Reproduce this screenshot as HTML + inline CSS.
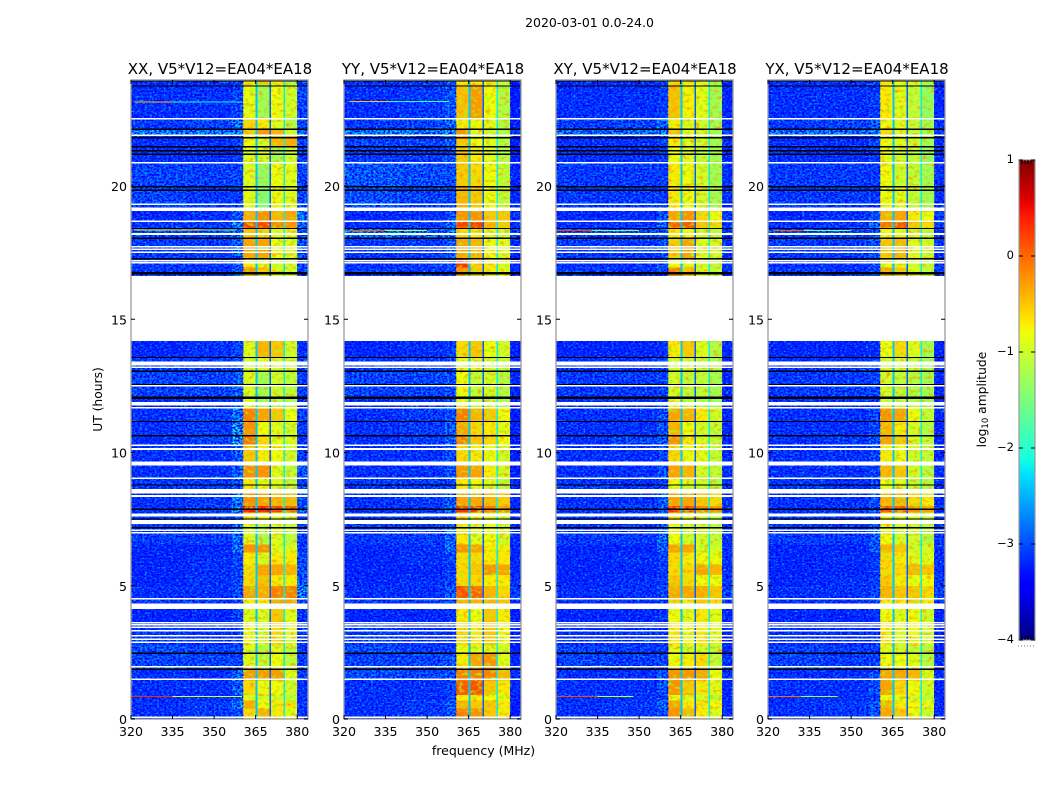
<!DOCTYPE html>
<html>
<head>
<meta charset="utf-8">
<title>2020-03-01 0.0-24.0</title>
<style>
html,body{margin:0;padding:0;background:#fff;}
svg{display:block;font-family:"DejaVu Sans","Liberation Sans",sans-serif;}
text{fill:#000;}
</style>
</head>
<body>
<svg id="chart" width="1050" height="800" viewBox="0 0 1050 800" xmlns="http://www.w3.org/2000/svg">
<defs>
<filter id="speckle-light" x="0" y="0" width="100%" height="100%" color-interpolation-filters="sRGB">
<feTurbulence type="fractalNoise" baseFrequency="0.38 0.62" numOctaves="2" seed="3"/>
<feColorMatrix values="0 0 0 0 0  0 0 0 0 .7  0 0 0 0 1  3.4 0 0 0 -1.65"/>
</filter>
<filter id="speckle-dark" x="0" y="0" width="100%" height="100%" color-interpolation-filters="sRGB">
<feTurbulence type="fractalNoise" baseFrequency="0.42 0.55" numOctaves="2" seed="11"/>
<feColorMatrix values="0 0 0 0 0  0 0 0 0 0  0 0 0 0 1  0 3.4 0 0 -1.2"/>
</filter>
<filter id="band-warm" x="0" y="0" width="100%" height="100%" color-interpolation-filters="sRGB">
<feTurbulence type="fractalNoise" baseFrequency="0.22 0.3" numOctaves="2" seed="5"/>
<feColorMatrix values="0 0 0 0 1  0 0 0 0 .6  0 0 0 0 0  3 0 0 0 -1.55"/>
</filter>
<filter id="band-cool" x="0" y="0" width="100%" height="100%" color-interpolation-filters="sRGB">
<feTurbulence type="fractalNoise" baseFrequency="0.22 0.3" numOctaves="2" seed="17"/>
<feColorMatrix values="0 0 0 0 .6  0 0 0 0 1  0 0 0 0 .1  0 3 0 0 -1.55"/>
</filter>
<linearGradient id="jet-gradient" x1="0" y1="1" x2="0" y2="0"></linearGradient>
</defs>
</svg>
<script>
// ---- chart data (hours, MHz, log10 amplitude) ----
const polarizations = ['XX', 'YY', 'XY', 'YX'];
const baselineLabel = ', V5*V12=EA04*EA18';
const xTickLabels = [320, 335, 350, 365, 380];
const yTickLabels = [0, 5, 10, 15, 20];
const colorbarTicks = [1, 0, -1, -2, -3, -4];
const freqBlockEdges = [320, 340, 356.5, 360.5, 365, 370, 375, 380, 384];
const gapStarts = [365, 370, 375];
const gapEnds = [365.7, 370.6, 375.6];
const rowStarts = [24, 23.8, 22.5, 22.12, 21.9, 21.5, 20.87, 19.97, 19.06, 18.68, 18.4, 18.04, 17.3, 16.95, 14.18, 13.55, 13.05, 12.05, 11.68, 11.16, 10.63, 10.27, 9.52, 9.03, 8.63, 8.0, 7.75, 7.3, 6.55, 6.25, 5.8, 5.4, 5.0, 4.5, 4.13, 3.6, 2.75, 2.47, 1.87, 1.45, 0.9, 0.7, 0.4];
const rowEnds = [23.8, 22.5, 22.12, 21.9, 21.5, 20.87, 19.97, 19.06, 18.68, 18.4, 18.04, 17.3, 16.95, 16.62, 13.55, 13.05, 12.05, 11.68, 11.16, 10.63, 10.27, 9.52, 9.03, 8.63, 8.0, 7.75, 7.3, 6.55, 6.25, 5.8, 5.4, 5.0, 4.5, 4.13, 3.6, 2.75, 2.47, 1.87, 1.45, 0.9, 0.7, 0.4, 0];
// each row: low1, low2, low3, band1, band2, band3, band4, upper-edge
const xxValues = [
[-3.0,-3.0,-2.8,-.7,-.5,-.7,-1.2,-3.0],[-3.0,-3.0,-2.8,-.85,-1.3,-.8,-1.0,-2.8],[-2.9,-2.8,-2.3,-.6,-.7,-.9,-1.2,-2.8],[-2.3,-2.3,-2.2,-.5,-.25,-.4,-1.0,-2.4],
[-3.0,-3.0,-2.8,-.8,-1.0,-.4,-.35,-2.9],[-3.0,-3.0,-2.9,-.9,-1.0,-1.3,-1.0,-2.9],[-2.8,-2.85,-2.8,-.9,-1.4,-.8,-.9,-2.8],[-2.8,-2.9,-2.9,-.85,-1.5,-.8,-.9,-2.8],
[-3.1,-3.0,-2.6,-.35,-.2,-.4,-.3,-2.4],[-2.9,-2.9,-2.2,.15,.2,-.15,-.2,-2.5],[-2.8,-2.8,-2.4,-.5,-.6,-.9,-.9,-2.7],[-2.9,-2.9,-2.5,-.3,-.3,-.8,-.9,-2.7],
[-2.9,-2.9,-2.7,-.7,-.9,-1.0,-1.0,-2.8],[-2.9,-3.0,-2.6,-.2,-.5,-.9,-1.0,-2.8],[-3.1,-3.0,-2.8,-.9,-.4,-.5,-1.0,-3.0],[-2.9,-2.9,-2.8,-1.0,-.9,-1.0,-1.0,-2.9],
[-2.8,-2.8,-2.6,-.95,-1.3,-1.0,-1.1,-2.9],[-3.0,-3.0,-2.8,-.9,-1.3,-1.2,-1.2,-3.0],[-3.0,-2.9,-2.4,-.1,-.3,-.5,-.8,-2.9],[-3.0,-2.9,-2.1,-.2,-.8,-.9,-1.0,-2.9],
[-3.0,-2.8,-2.1,-.05,-.6,-.8,-.9,-3.0],[-3.0,-3.0,-2.6,-.5,-.7,-.8,-1.0,-2.9],[-3.0,-3.0,-2.5,-.2,-.2,-.9,-1.1,-2.6],[-2.9,-2.9,-2.7,-.7,-.8,-.9,-1.1,-2.8],
[-3.0,-2.9,-2.3,-.2,-.3,-.4,-.4,-2.7],[-3.0,-2.8,-2.1,.45,.4,.2,.15,-2.5],[-2.9,-2.9,-2.6,-.6,-.8,-.9,-1.0,-2.8],[-2.9,-2.9,-2.4,-.9,-1.2,-.9,-1.1,-2.9],
[-3.1,-3.1,-2.4,-.2,-.2,-.9,-.9,-2.9],[-3.1,-3.0,-2.8,-.7,-.9,-.7,-.7,-2.8],[-3.1,-3.0,-2.8,-.6,-.3,-.3,-.4,-2.7],[-3.1,-3.0,-2.8,-.6,-.45,-.7,-.7,-2.6],
[-3.0,-3.0,-2.7,-.3,-.35,-.1,-.1,-2.2],[-2.9,-2.9,-2.7,-.7,-.7,-.3,-.3,-2.8],[-3.1,-3.1,-2.8,-.9,-.95,-.5,-.9,-3.0],[-2.9,-3.0,-2.9,-.8,-1.0,-.6,-.9,-2.9],
[-2.7,-2.8,-2.8,-.9,-1.2,-.9,-1.1,-2.9],[-2.8,-2.8,-2.8,-.9,-1.1,-.8,-1.1,-2.9],[-3.0,-3.0,-2.5,-.25,-.25,-.25,-.85,-2.9],[-3.0,-3.0,-2.5,-.6,-.8,-.8,-1.0,-3.0],
[-3.0,-3.0,-2.8,-.9,-1.0,-1.0,-1.1,-3.0],[-3.0,-2.9,-2.3,-.35,-.8,-.7,-.65,-2.9],[-3.0,-2.9,-2.7,-.6,-.4,-.7,-.9,-3.0]];
const yyValues = [
[-3.0,-2.9,-2.6,-.7,-.7,-.7,-1.1,-3.2],[-3.0,-2.9,-2.6,-.45,-.25,-.8,-1.2,-3.2],[-2.9,-2.8,-2.4,-.7,-.75,-.9,-1.2,-3.2],[-2.3,-2.3,-2.2,-.2,-.8,-1.0,-1.2,-3.0],
[-2.8,-2.8,-2.6,-.5,-.8,-.9,-1.2,-3.2],[-2.9,-2.9,-2.7,-.5,-.7,-.9,-1.2,-3.2],[-2.6,-2.7,-2.7,-.5,-.6,-.8,-1.1,-3.1],[-2.7,-2.8,-2.8,-.4,-.5,-.8,-1.1,-3.1],
[-3.1,-3.0,-2.7,-.2,-.2,-.5,-.5,-3.0],[-3.0,-2.9,-2.5,.25,.25,-.4,-.5,-3.0],[-2.4,-2.5,-2.3,-.6,-.7,-.9,-1.0,-2.8],[-2.9,-2.9,-2.6,-.3,-.4,-.8,-.9,-3.1],
[-3.0,-2.9,-2.7,.3,-.6,-.7,-.9,-3.1],[-2.9,-2.9,-2.7,-.2,-.5,-.7,-.9,-3.1],[-3.1,-3.0,-2.9,-.6,-.5,-.8,-1.0,-3.2],[-2.9,-2.9,-2.8,-.9,-.9,-1.0,-1.1,-3.1],
[-2.8,-2.8,-2.7,-.8,-1.1,-1.0,-1.2,-3.1],[-3.0,-3.0,-2.8,-.8,-1.1,-1.1,-1.2,-3.2],[-3.0,-2.9,-2.7,-.1,-.4,-.5,-.8,-3.2],[-3.0,-2.9,-2.6,-.3,-.6,-.7,-.9,-3.2],
[-3.0,-2.9,-2.5,-.1,-.5,-.6,-.8,-3.2],[-3.0,-3.0,-2.7,-.6,-.7,-.8,-1.0,-3.2],[-3.0,-3.0,-2.7,-.2,-.3,-.7,-1.0,-3.2],[-2.9,-2.9,-2.8,-.7,-.8,-.9,-1.1,-3.1],
[-3.0,-2.9,-2.6,-.3,-.3,-.4,-.5,-3.1],[-3.0,-2.9,-2.5,.3,.3,-.1,-.2,-3.1],[-2.9,-2.9,-2.7,-.6,-.8,-.9,-1.0,-3.1],[-2.9,-2.9,-2.5,-.7,-.9,-.8,-1.0,-3.1],
[-3.1,-3.0,-2.4,-.2,-.3,-.7,-.7,-3.1],[-3.1,-3.0,-2.8,-.6,-.6,-.7,-.7,-3.1],[-3.1,-3.1,-2.9,-.6,-.5,-.2,-.3,-3.1],[-3.1,-3.0,-2.8,-.6,-.6,-.7,-.7,-3.0],
[-3.0,-3.0,-2.6,.15,.05,-.4,-.6,-2.9],[-2.9,-2.9,-2.8,-.4,-.4,-.4,-.5,-3.1],[-3.1,-3.1,-3.0,-.7,-.8,-.5,-.7,-3.2],[-2.9,-3.0,-3.0,-.6,-.7,-.5,-.8,-3.2],
[-2.7,-2.9,-2.9,-.8,-.9,-.9,-1.0,-3.2],[-2.8,-2.8,-2.6,-.7,-.3,-.2,-.9,-3.1],[-2.7,-2.8,-2.7,-.1,-.1,-.1,-.4,-3.0],[-3.0,-3.0,-2.8,.1,.15,-.5,-.7,-3.1],
[-3.0,-3.0,-2.8,-.7,-.7,-.8,-.9,-3.2],[-3.0,-2.9,-2.6,-.4,-.5,-.5,-.7,-3.2],[-3.0,-2.9,-2.6,-.1,-.2,-.5,-.7,-3.2]];
const xyValues = [
[-3.0,-3.0,-2.8,-.6,-.7,-.9,-1.3,-3.1],[-3.0,-3.0,-2.9,-.45,-.75,-.9,-1.3,-3.1],[-2.9,-2.8,-2.5,-.7,-.9,-1.0,-1.3,-3.0],[-2.4,-2.4,-2.3,-.5,-.9,-1.0,-1.3,-2.9],
[-3.0,-3.0,-2.8,-.7,-.9,-1.0,-1.3,-3.0],[-3.0,-3.0,-2.9,-.8,-.9,-1.1,-1.3,-3.1],[-2.9,-2.9,-2.9,-.7,-.8,-1.0,-1.3,-3.0],[-2.9,-2.9,-2.9,-.7,-.8,-1.0,-1.3,-3.0],
[-3.1,-3.0,-2.7,-.3,-.2,-.6,-.8,-2.9],[-3.0,-2.9,-2.5,.05,.1,-.5,-.6,-2.9],[-2.8,-2.8,-2.6,-.7,-.8,-1.0,-1.1,-3.0],[-2.9,-2.9,-2.7,-.5,-.3,-.9,-1.0,-3.0],
[-3.0,-3.0,-2.8,-.8,-.9,-1.0,-1.1,-3.0],[-2.9,-3.0,-2.7,-.1,-.5,-.9,-1.1,-3.0],[-3.1,-3.1,-3.0,-.7,-.5,-.9,-1.2,-3.1],[-3.0,-3.0,-2.9,-1.0,-1.0,-1.1,-1.2,-3.1],
[-2.9,-2.9,-2.8,-1.0,-1.1,-1.1,-1.3,-3.1],[-3.0,-3.0,-2.9,-.9,-1.1,-1.2,-1.3,-3.1],[-3.0,-3.0,-2.7,-.3,-.4,-.7,-1.0,-3.1],[-3.0,-3.0,-2.7,-.4,-.8,-1.0,-1.1,-3.1],
[-3.0,-2.8,-2.6,-.2,-.7,-.9,-1.1,-3.1],[-3.0,-3.0,-2.8,-.6,-.8,-.9,-1.1,-3.1],[-3.0,-3.0,-2.7,-.3,-.4,-1.0,-1.1,-3.0],[-2.9,-3.0,-2.8,-.8,-.9,-1.0,-1.2,-3.0],
[-3.0,-3.0,-2.6,-.3,-.3,-.5,-.6,-3.0],[-3.0,-2.9,-2.5,.3,.25,-.1,-.2,-2.9],[-2.9,-3.0,-2.7,-.6,-.9,-1.0,-1.1,-3.0],[-2.9,-2.9,-2.5,-.8,-1.0,-1.0,-1.1,-3.0],
[-3.1,-3.1,-2.5,-.3,-.3,-1.0,-1.0,-3.0],[-3.1,-3.0,-2.9,-.6,-.7,-.8,-.8,-3.0],[-3.1,-3.1,-2.9,-.6,-.6,-.3,-.4,-3.0],[-3.1,-3.0,-2.9,-.5,-.6,-.8,-.8,-3.0],
[-3.0,-3.0,-2.8,-.35,-.3,-.35,-.5,-2.8],[-3.0,-3.0,-2.8,-.6,-.7,-.5,-.6,-3.0],[-3.1,-3.1,-3.0,-.8,-.9,-.7,-.9,-3.1],[-3.0,-3.0,-3.0,-.7,-.8,-.7,-.9,-3.1],
[-2.8,-2.9,-2.9,-.9,-1.0,-1.0,-1.1,-3.1],[-2.8,-2.9,-2.8,-.8,-.7,-.6,-1.1,-3.0],[-3.0,-3.0,-2.7,-.2,-.2,-.3,-.8,-3.0],[-3.0,-3.0,-2.7,-.2,-.5,-.7,-.9,-3.1],
[-3.0,-3.0,-2.9,-.8,-.9,-1.0,-1.1,-3.1],[-3.0,-2.9,-2.5,-.3,-.7,-.7,-.8,-3.1],[-3.0,-2.9,-2.7,-.2,-.4,-.7,-.9,-3.1]];
const yxValues = [
[-3.0,-3.0,-2.8,-.7,-.8,-1.0,-1.3,-3.1],[-3.0,-3.0,-2.9,-.7,-.9,-1.1,-1.4,-3.1],[-2.9,-2.8,-2.6,-.8,-.9,-1.1,-1.3,-3.0],[-2.4,-2.4,-2.3,-.6,-.9,-1.1,-1.3,-2.9],
[-3.0,-3.0,-2.8,-.8,-.9,-1.0,-1.3,-3.0],[-3.0,-3.0,-2.9,-.8,-1.0,-1.1,-1.4,-3.1],[-2.9,-2.9,-2.9,-.8,-1.0,-1.1,-1.3,-3.0],[-2.9,-2.9,-2.9,-.8,-.9,-1.1,-1.3,-3.0],
[-3.1,-3.0,-2.7,-.4,-.3,-.7,-.8,-2.9],[-3.0,-2.9,-2.5,-.05,.1,-.5,-.6,-2.9],[-2.8,-2.8,-2.6,-.8,-.8,-1.0,-1.1,-3.0],[-2.9,-2.9,-2.7,-.5,-.4,-.9,-1.0,-3.0],
[-3.0,-3.0,-2.8,-.8,-.9,-1.0,-1.1,-3.0],[-2.9,-3.0,-2.7,-.3,-.5,-.9,-1.1,-3.0],[-3.1,-3.1,-3.0,-.8,-.6,-.9,-1.3,-3.1],[-3.0,-3.0,-2.9,-1.0,-1.0,-1.1,-1.3,-3.1],
[-2.9,-2.9,-2.8,-1.0,-1.1,-1.2,-1.3,-3.1],[-3.0,-3.0,-2.9,-1.0,-1.1,-1.2,-1.3,-3.1],[-3.0,-3.0,-2.8,-.2,-.3,-.8,-1.1,-3.1],[-3.0,-3.0,-2.8,-.4,-.7,-1.0,-1.2,-3.1],
[-3.0,-2.9,-2.7,-.3,-.5,-1.0,-1.1,-3.1],[-3.0,-3.0,-2.8,-.7,-.8,-1.0,-1.1,-3.1],[-3.0,-3.0,-2.8,-.4,-.5,-1.0,-1.2,-3.0],[-2.9,-3.0,-2.8,-.8,-.9,-1.1,-1.2,-3.0],
[-3.0,-3.0,-2.7,-.4,-.4,-.6,-.7,-3.0],[-3.0,-2.9,-2.6,.2,.15,-.2,-.3,-2.9],[-2.9,-3.0,-2.8,-.7,-.9,-1.0,-1.1,-3.0],[-2.9,-2.9,-2.6,-.8,-1.0,-1.0,-1.2,-3.0],
[-3.1,-3.1,-2.6,-.4,-.5,-1.0,-1.0,-3.0],[-3.1,-3.0,-2.9,-.6,-.7,-.9,-.9,-3.0],[-3.1,-3.1,-2.9,-.6,-.6,-.4,-.5,-3.0],[-3.1,-3.0,-2.9,-.5,-.7,-.8,-.8,-3.0],
[-3.0,-3.0,-2.8,-.4,-.5,-.5,-.6,-2.8],[-3.0,-3.0,-2.8,-.7,-.7,-.6,-.7,-3.0],[-3.1,-3.1,-3.0,-.8,-.9,-.8,-1.0,-3.1],[-3.0,-3.0,-3.0,-.7,-.9,-.8,-1.0,-3.1],
[-2.8,-2.9,-2.9,-.9,-1.0,-1.1,-1.2,-3.1],[-2.8,-2.9,-2.8,-.8,-.8,-.9,-1.2,-3.0],[-3.0,-3.0,-2.7,-.3,-.3,-.4,-.9,-3.0],[-3.0,-3.0,-2.7,-.3,-.6,-.8,-1.0,-3.1],
[-3.0,-3.0,-2.9,-.8,-.9,-1.0,-1.1,-3.1],[-3.0,-2.9,-2.6,-.4,-.7,-.8,-.9,-3.1],[-3.0,-2.9,-2.7,-.3,-.5,-.8,-1.0,-3.1]];
// narrow bright interference lines: hour, start MHz, end MHz, value
const xxHotLines = [[23.16,321,335,-.4],[23.16,335,360,-2.1],[18.34,321,345,-.8],[18.34,345,358,-1.6],[9.05,321,332,.25],[0.85,320,335,.35],[0.85,335,360,-.9]];
const yyHotLines = [[23.17,322,336,-.5],[23.17,336,358,-2.0],[18.33,322,335,.05],[18.33,335,350,-1.3]];
const xyHotLines = [[18.33,320,333,.2],[18.33,333,350,-1.5],[0.85,320,335,.2],[0.85,335,348,-1.1]];
const yxHotLines = [[18.33,322,333,.05],[18.33,333,350,-1.6],[0.85,320,332,.0],[0.85,332,345,-1.3]];
// value of the narrow notches between the four bright bands
const gapLevels = [-2.4, -2.9, -2.2];
// flagged (blank) time ranges: start hour, end hour
const whiteBands = [[22.5,22.56],[21.87,21.93],[20.84,20.9],[19.29,19.35],[19.06,19.19],[18.65,18.71],[18.16,18.24],[17.69,17.75],[17.59,17.65],[17.49,17.55],[17.17,17.23],[17.09,17.15],[14.18,16.62],[13.27,13.41],[13.17,13.23],[12.47,12.53],[11.77,11.89],[11.65,11.71],[10.24,10.3],[10.1,10.16],[9.52,9.67],[9.0,9.06],[8.47,8.63],[8.33,8.4],[7.65,7.71],[7.59,7.65],[7.32,7.47],[7.06,7.12],[6.96,7.02],[4.48,4.54],[4.13,4.34],[3.58,3.64],[3.5,3.56],[3.41,3.47],[3.28,3.34],[3.1,3.16],[2.96,3.02],[2.85,2.91],[1.93,1.99],[1.46,1.52],[0.03,0.09]];
// flagged (zero) time slices: centre hour
const blackLines = [23.95,23.75,22.13,21.81,21.47,21.32,21.19,19.97,19.84,18.4,18.04,17.27,16.76,16.71,13.56,13.05,12.54,12.07,12.03,11.16,10.63,8.78,7.87,7.5,7.18,2.47,1.87];

// ---- axis functions ----
const svg = document.getElementById('chart');
const NS = 'http://www.w3.org/2000/svg';
const panelLefts = [131, 344, 556, 768];
const plotTop = 80, plotBottom = 719, plotWidth = 177;
const yOf = h => 719 - h * 26.65;
const xOf = (left, f) => left + (f - 320) * 2.77;
function jet(v) {
  const t = Math.max(0, Math.min(1, (v + 4) / 5));
  const ramp = (pts) => {
    for (let i = 1; i < pts.length; i++) {
      if (t <= pts[i][0]) {
        const a = pts[i - 1], b = pts[i];
        return a[1] + (b[1] - a[1]) * (t - a[0]) / (b[0] - a[0]);
      }
    }
    return pts[pts.length - 1][1];
  };
  const r = ramp([[0, 0], [.35, 0], [.66, 1], [.89, 1], [1, .5]]);
  const g = ramp([[0, 0], [.125, 0], [.375, 1], [.64, 1], [.91, 0], [1, 0]]);
  const b = ramp([[0, .5], [.11, 1], [.34, 1], [.65, 0], [1, 0]]);
  return 'rgb(' + Math.round(r * 255) + ',' + Math.round(g * 255) + ',' + Math.round(b * 255) + ')';
}
function make(tag, attrs, parent, txt) {
  const el = document.createElementNS(NS, tag);
  for (const k in attrs) el.setAttribute(k, attrs[k]);
  if (txt !== undefined) el.textContent = txt;
  parent.appendChild(el);
  return el;
}
function tickLine(parent, x1, y1, x2, y2) {
  const t = make('line', { x1: x1, y1: y1, x2: x2, y2: y2, stroke: '#000', 'stroke-width': 1 }, parent);
  
  
  return t;
}

// ---- panels ----
const panelValues = [xxValues, yyValues, xyValues, yxValues];
const panelHotLines = [xxHotLines, yyHotLines, xyHotLines, yxHotLines];
polarizations.forEach((pol, p) => {
  const left = panelLefts[p];
  const right = left + plotWidth;
  const g = make('g', {}, svg);
  
  
  const clipId = 'clip-' + p;
  const defs = make('clipPath', { id: clipId }, g);
  make('rect', { x: left, y: plotTop, width: plotWidth, height: plotBottom - plotTop }, defs);
  const body = make('g', { 'clip-path': 'url(#' + clipId + ')', 'shape-rendering': 'crispEdges' }, g);
  
  
  const rows = panelValues[p];
  rows.forEach((row, r) => {
    const y0 = yOf(rowStarts[r]), y1 = yOf(rowEnds[r]);
    row.forEach((v, c) => {
      const x0 = xOf(left, freqBlockEdges[c]), x1 = xOf(left, freqBlockEdges[c + 1]);
      const cell = make('rect', { x: x0.toFixed(2), y: y0.toFixed(2), width: (x1 - x0 + .3).toFixed(2), height: (y1 - y0 + .3).toFixed(2), fill: jet(v) }, body);
      
      
    });
  });
  // fine-grain receiver noise texture over the low-level regions
  [[320, 360.5], [380, 384]].forEach(span => {
    const sx = xOf(left, span[0]), sw = xOf(left, span[1]) - sx;
    ['speckle-light', 'speckle-dark'].forEach(fid => {
      const tex = make('rect', { x: sx, y: plotTop, width: sw, height: plotBottom - plotTop, filter: 'url(#' + fid + ')' }, body);
      
      
    });
  });
  // mottled texture over the bright bands
  [[360.5, 380]].forEach(span => {
    const sx = xOf(left, span[0]), sw = xOf(left, span[1]) - sx;
    ['band-warm', 'band-cool'].forEach(fid => {
      const tex = make('rect', { x: sx, y: plotTop, width: sw, height: plotBottom - plotTop, filter: 'url(#' + fid + ')' }, body);
      
      
    });
  });
  // notches between the bright bands
  gapLevels.forEach((v, i) => {
    const x0 = xOf(left, gapStarts[i]), x1 = xOf(left, gapEnds[i]);
    const gap = make('rect', { x: x0.toFixed(2), y: plotTop, width: (x1 - x0).toFixed(2), height: plotBottom - plotTop, fill: jet(v) }, body);
    
    
  });
  panelHotLines[p].forEach(h => {
    const x0 = xOf(left, h[1]), x1 = xOf(left, h[2]);
    const hot = make('rect', { x: x0.toFixed(2), y: (yOf(h[0]) - .5).toFixed(2), width: (x1 - x0).toFixed(2), height: 1, fill: jet(h[3]) }, body);
    
    
  });
  blackLines.forEach(h => {
    const line = make('rect', { x: left, y: (yOf(h) - .6).toFixed(2), width: plotWidth, height: 1.2, fill: '#000' }, body);
    
    
  });
  whiteBands.forEach(b => {
    const y0 = yOf(b[1]), y1 = yOf(b[0]);
    const band = make('rect', { x: left, y: y0.toFixed(2), width: plotWidth, height: (y1 - y0).toFixed(2), fill: '#fff' }, body);
    
    
  });
  // frame
  const frame = make('rect', { x: left, y: plotTop, width: plotWidth, height: plotBottom - plotTop, fill: 'none', stroke: '#9a9a9a', 'stroke-width': 1.3 }, g);
  
  
  // ticks
  xTickLabels.forEach(f => {
    const x = xOf(left, f);
    tickLine(g, x, plotBottom, x, plotBottom - 4);
    tickLine(g, x, plotTop, x, plotTop + 4);
    const tl = make('text', { x: x, y: 736, 'text-anchor': 'middle', 'font-size': 12.6 }, g, String(f));
    
    
  });
  yTickLabels.forEach(h => {
    const y = yOf(h);
    tickLine(g, left, y, left + 4, y);
    tickLine(g, right, y, right - 4, y);
    const tl = make('text', { x: left - 4, y: y + 5, 'text-anchor': 'end', 'font-size': 12.6 }, g, String(h));
    
    
  });
  const title = make('text', { x: left + plotWidth / 2 + .5, y: 74, 'text-anchor': 'middle', 'font-size': 15 }, g, pol + baselineLabel);
  
  
});

// ---- figure labels ----
const sup = make('text', { x: 589.5, y: 27, 'text-anchor': 'middle', 'font-size': 12.5 }, svg, '2020-03-01 0.0-24.0');


const xl = make('text', { x: 483.5, y: 755, 'text-anchor': 'middle', 'font-size': 12.5 }, svg, 'frequency (MHz)');


const yl = make('text', { x: 102, y: 399.5, 'text-anchor': 'middle', 'font-size': 12.3, transform: 'rotate(-90 102 399.5)' }, svg, 'UT (hours)');



// ---- colorbar ----
const cbX = 1019, cbW = 16, cbTop = 160, cbBottom = 640;
const cbY = v => cbTop + (1 - v) * (cbBottom - cbTop) / 5;
const grad = document.getElementById('jet-gradient');
for (let i = 0; i <= 50; i++) {
  make('stop', { offset: (i * 2) + '%', 'stop-color': jet(-4 + i / 10) }, grad);
}
const cb = make('g', {}, svg);


const cbFill = make('rect', { x: cbX, y: cbTop, width: cbW, height: cbBottom - cbTop, fill: 'url(#jet-gradient)', stroke: '#9a9a9a', 'stroke-width': 1.2 }, cb);


colorbarTicks.forEach(v => {
  const y = cbY(v);
  tickLine(cb, cbX, y, cbX + 4, y);
  tickLine(cb, cbX + cbW, y, cbX + cbW - 4, y);
  const lab = make('text', { x: cbX - 5, y: y + 3, 'text-anchor': 'end', 'font-size': 11.5 }, cb, String(v).replace('-', '\u2212'));
  
  
});
[0, 1, 2, 3].forEach(i => {
  const x = cbX + 3 + i * 3;
  tickLine(cb, x, cbTop, x, cbTop + 4);
  tickLine(cb, x, cbBottom, x, cbBottom - 4);
});
const dots = make('line', { x1: 1018, y1: 646, x2: 1035, y2: 646, stroke: '#777', 'stroke-width': 1, 'stroke-dasharray': '1 2' }, cb);


const cbl = make('text', { x: 986, y: 399.5, 'text-anchor': 'middle', 'font-size': 12.3, transform: 'rotate(-90 986 399.5)' }, cb);


make('tspan', {}, cbl, 'log');
make('tspan', { 'font-size': 8.5, dy: 2 }, cbl, '10');
make('tspan', { dy: -2 }, cbl, ' amplitude');
</script>
</body>
</html>
